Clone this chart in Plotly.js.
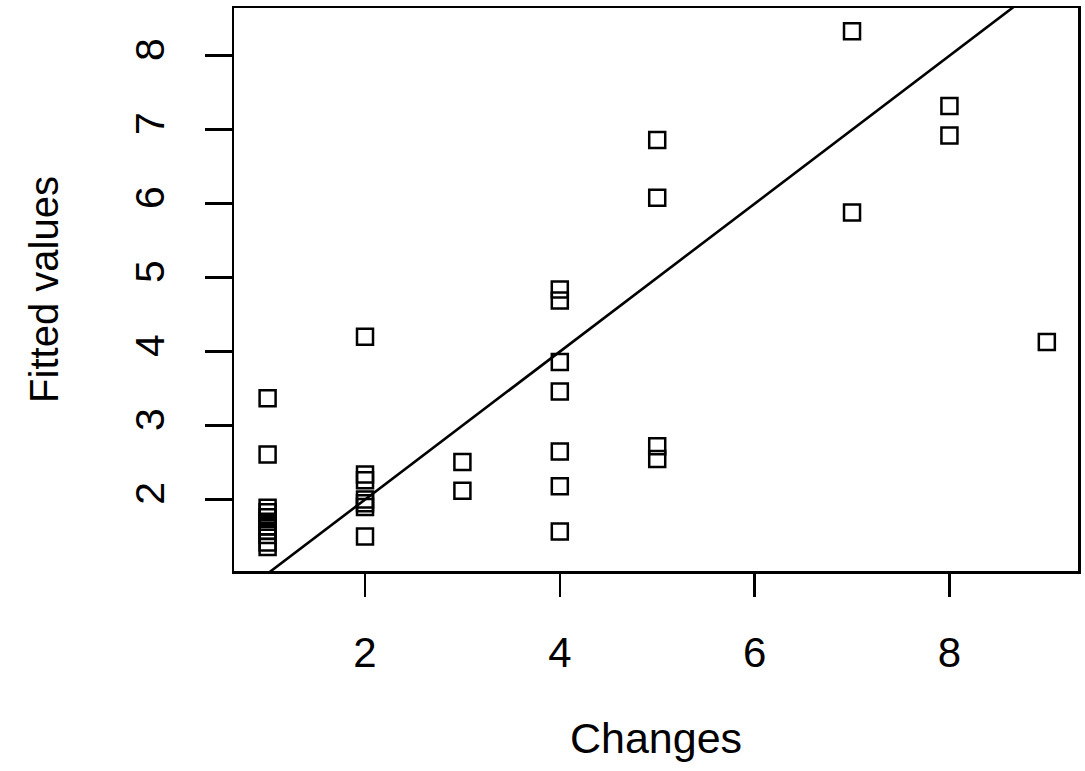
<!DOCTYPE html>
<html>
<head>
<meta charset="utf-8">
<script src="https://cdn.plot.ly/plotly-3.0.1.min.js"></script>
<style>html,body{margin:0;padding:0;background:#fff;}#chart{width:1085px;height:771px;}</style>
</head>
<body>
<div id="chart"></div>
<script>
// Observed changes (x) and fitted values (y)
const changes = [
  1, 1, 1, 1, 1, 1, 1, 1, 1, 1, 1,
  2, 2, 2, 2, 2, 2, 2,
  3, 3,
  4, 4, 4, 4, 4, 4, 4,
  5, 5, 5, 5,
  7, 7,
  8, 8,
  9
];
const fittedValues = [
  3.37, 2.61, 1.89, 1.83, 1.76, 1.70, 1.64, 1.58, 1.52, 1.42, 1.36,
  4.20, 2.34, 2.26, 2.00, 1.95, 1.90, 1.50,
  2.51, 2.12,
  4.84, 4.69, 3.86, 3.46, 2.65, 2.18, 1.57,
  6.86, 6.08, 2.72, 2.55,
  8.33, 5.88,
  7.32, 6.92,
  4.13
];
// Reference line y = a + b*x (abline(0, 1))
const lineIntercept = 0;
const lineSlope = 1;
const xTickVals = [2, 4, 6, 8];
const yTickVals = [2, 3, 4, 5, 6, 7, 8];

const lineX = [0, 10];
const lineY = lineX.map(v => lineIntercept + lineSlope * v);

const font = {family: 'Liberation Sans, Arial, sans-serif', color: '#000'};

const traces = [
  {
    x: changes, y: fittedValues, type: 'scatter', mode: 'markers',
    marker: {symbol: 'square-open', size: 16, color: '#000', line: {width: 2.5, color: '#000'}},
    hoverinfo: 'x+y', showlegend: false
  },
  {
    x: lineX, y: lineY, type: 'scatter', mode: 'lines',
    line: {color: '#000', width: 2.6}, hoverinfo: 'skip', showlegend: false
  }
];

const layout = {
  width: 1085, height: 771,
  paper_bgcolor: '#fff', plot_bgcolor: '#fff',
  margin: {l: 234, r: 7, t: 8, b: 200, pad: 0},
  showlegend: false,
  font: Object.assign({size: 40}, font),
  xaxis: {
    range: [0.655, 9.32], tickmode: 'array', tickvals: xTickVals,
    ticks: 'outside', ticklen: 23, tickwidth: 2.5, tickcolor: '#000',
    showgrid: false, zeroline: false, showline: true, mirror: true, linewidth: 2.5, linecolor: '#000',
    tickfont: Object.assign({size: 42}, font), ticklabelstandoff: 20,
    title: {text: 'Changes', font: Object.assign({size: 43}, font), standoff: 48},
    automargin: false
  },
  yaxis: {
    range: [1.035, 8.645], tickmode: 'array', tickvals: yTickVals,
    ticks: 'outside', ticklen: 27, tickwidth: 2.5, tickcolor: '#000', tickangle: -90,
    showgrid: false, zeroline: false, showline: true, mirror: true, linewidth: 2.5, linecolor: '#000',
    tickfont: Object.assign({size: 41}, font), ticklabelstandoff: 24,
    title: {text: 'Fitted values', font: Object.assign({size: 40}, font), standoff: 56},
    automargin: false
  }
};

Plotly.newPlot('chart', traces, layout, {displayModeBar: false, staticPlot: true});
</script>
</body>
</html>
